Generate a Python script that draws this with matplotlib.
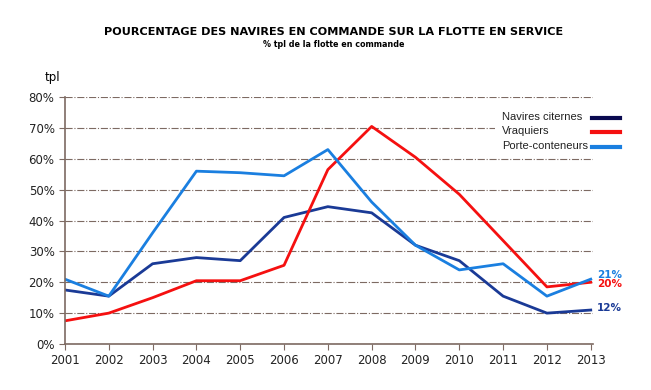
import matplotlib
matplotlib.use('Agg')
import matplotlib.pyplot as plt
from matplotlib.lines import Line2D
from matplotlib.patches import Rectangle

annees = list(range(2001, 2014))
citernes = [17.5, 15.5, 26, 28, 27, 41, 44.5, 42.5, 32, 27, 15.5, 10, 11]
vraquiers = [7.5, 10, 15, 20.5, 20.5, 25.5, 56.5, 70.5, 60.5, 48.5, 33.5, 18.5, 20]
conteneurs = [21, 15.5, 36, 56, 55.5, 54.5, 63, 46, 32, 24, 26, 15.5, 21]
noms = ['Navires citernes', 'Vraquiers', 'Porte-conteneurs']
etiquettes_fin = ['12%', '20%', '21%']

c_cit = '#1a3a96'
c_vra = '#f51010'
c_con = '#1a7fe0'
brun = '#7d6a62'

fig = plt.figure(figsize=(6.51, 3.9), dpi=100)
ax = fig.add_axes([0.0998, 0.118, 0.811, 0.633])

ax.plot(annees, citernes, color=c_cit, lw=2)
ax.plot(annees, vraquiers, color=c_vra, lw=2)
ax.plot(annees, conteneurs, color=c_con, lw=2)

ax.set_xlim(2001, 2013.05)
ax.set_ylim(0, 80)
ax.set_yticks(range(0, 81, 10))
ax.set_yticklabels([f'{v}%' for v in range(0, 81, 10)])
ax.set_xticks(annees)
ax.tick_params(colors=brun, labelcolor='#222222', labelsize=8.5, length=4)
for s in ['top', 'right']:
    ax.spines[s].set_visible(False)
for s in ['left', 'bottom']:
    ax.spines[s].set_color(brun)
    ax.spines[s].set_linewidth(1.2)
ax.yaxis.grid(True, color=brun, linestyle='-.', linewidth=0.8)
ax.set_axisbelow(True)

# valeurs en fin de courbe
ax.text(2013.15, conteneurs[-1] + 1.5, etiquettes_fin[2], color=c_con, fontsize=7.5,
        fontweight='bold', va='center', clip_on=False)
ax.text(2013.15, vraquiers[-1] - 0.7, etiquettes_fin[1], color=c_vra, fontsize=7.5,
        fontweight='bold', va='center', clip_on=False)
ax.text(2013.15, citernes[-1] + 0.7, etiquettes_fin[0], color=c_cit, fontsize=7.5,
        fontweight='bold', va='center', clip_on=False)

# légende faite à la main (texte à gauche, trait à droite)
fig.patches.append(Rectangle((495 / 651, 1 - 157 / 390), 130 / 651, 52 / 390,
                             transform=fig.transFigure, facecolor='white',
                             edgecolor='none', zorder=5))
couleurs_leg = ['#0a0a50', c_vra, c_con]
ys = [117, 131, 146]
for nom, col, y in zip(noms, couleurs_leg, ys):
    fig.text(502 / 651, 1 - y / 390, nom, ha='left', va='center', fontsize=8,
             family='Liberation Sans', color='#222222', zorder=6)
    fig.add_artist(Line2D([592 / 651, 620 / 651], [1 - (y + 1) / 390] * 2, color=col,
                          lw=3, transform=fig.transFigure, zorder=6))

fig.text(0.512, 0.918, 'POURCENTAGE DES NAVIRES EN COMMANDE SUR LA FLOTTE EN SERVICE',
         ha='center', va='center', fontsize=8.1, fontweight='bold')
fig.text(0.512, 0.885, '% tpl de la flotte en commande', ha='center', va='center',
         fontsize=5.8, fontweight='bold')
fig.text(0.08, 0.8, 'tpl', ha='center', va='center', fontsize=8.5)

fig.savefig('out.png', dpi=100)
